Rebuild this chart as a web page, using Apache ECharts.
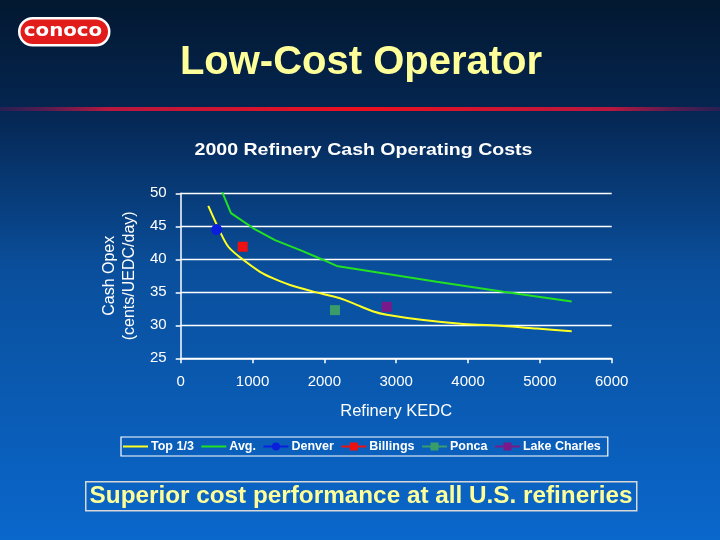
<!DOCTYPE html>
<html><head><meta charset="utf-8">
<script src="https://cdn.jsdelivr.net/npm/echarts@6/dist/echarts.min.js"></script>
<style>html,body{margin:0;padding:0;background:#03244a}#c{width:720px;height:540px}</style>
</head><body><div id="c"></div>
<script>
const top13 = [[384,48.1],[547,44.2],[663,41.9],[826,40.3],[1104,38.1],[1289,37.1],[1522,36.1],[1846,35.1],[2218,34.1],[2450,33.1],[2682,32.1],[2868,31.6],[3378,30.8],[3935,30.2],[4491,29.9],[4956,29.5],[5443,29.1]];
const avg = [[547,51.0],[700,47.0],[1011,44.7],[1313,42.9],[1707,41.2],[1986,39.9],[2171,39.0],[2636,38.2],[3564,36.6],[4491,35.1],[5443,33.6]];
const denver = [[501,44.5]];
const billings = [[863,41.9]];
const ponca = [[2148,32.3]];
const lakeCharles = [[2868,32.8]];
const seriesNames = ['Top 1/3','Avg.','Denver','Billings','Ponca','Lake Charles'];

const chart = echarts.init(document.getElementById('c'));
const FF = '"Liberation Sans", Arial, sans-serif';
const pointSeries = (name, data, color, symbol, size) => ({
  name, type:'line', data, symbol, symbolSize:size, showSymbol:true,
  itemStyle:{color}, lineStyle:{color, width:1.5}, z:5
});
chart.setOption({
  backgroundColor:{type:'linear',x:0,y:0,x2:0,y2:1,colorStops:[
    {offset:0,color:'#021830'},{offset:0.2,color:'#052550'},{offset:0.5,color:'#0a4f9c'},{offset:1,color:'#0a67cb'}]},
  animation:false,
  textStyle:{fontFamily:FF},
  grid:{left:180.7, right:108.3, top:193.3, bottom:181.7},
  xAxis:{type:'value', min:0, max:6000, interval:1000,
    name:'Refinery KEDC', nameLocation:'middle', nameGap:45,
    nameTextStyle:{color:'#ffffff', fontSize:16.5, fontFamily:FF},
    axisLine:{lineStyle:{color:'#ffffff', width:1.5}},
    axisTick:{show:true, length:5, lineStyle:{color:'#ffffff', width:1.5}},
    axisLabel:{color:'#ffffff', fontSize:15, margin:16, fontFamily:FF, formatter:v=>String(v)},
    splitLine:{show:false}},
  yAxis:{type:'value', min:25, max:50, interval:5,
    name:'Cash Opex\n(cents/UEDC/day)', nameLocation:'middle', nameGap:41,
    nameTextStyle:{color:'#ffffff', fontSize:16, lineHeight:20, fontFamily:FF},
    axisLine:{show:true, lineStyle:{color:'#ffffff', width:1.5}},
    axisTick:{show:true, length:5, lineStyle:{color:'#ffffff', width:1.5}},
    axisLabel:{color:'#ffffff', fontSize:15, margin:14, fontFamily:FF, formatter:v=>String(v)},
    splitLine:{show:true, lineStyle:{color:'#ffffff', width:1.3}}},
  legend:{left:121, top:437, width:600, padding:[3,7,3,1], itemGap:6.5,
    borderColor:'#ffffff', borderWidth:1.2, itemWidth:25, itemHeight:10,
    textStyle:{color:'#ffffff', fontSize:12.5, fontWeight:'bold', fontFamily:FF, padding:[0,0,0,-2]},
    data:[
      {name:'Top 1/3', itemStyle:{opacity:0}},
      {name:'Avg.', itemStyle:{opacity:0}},
      'Denver','Billings','Ponca','Lake Charles']},
  series:[
    {name:seriesNames[0], type:'line', data:top13, smooth:0.3, symbol:'none', lineStyle:{color:'#ffff22', width:2}, itemStyle:{color:'#ffff22'}},
    {name:seriesNames[1], type:'line', data:avg, symbol:'none', lineStyle:{color:'#22e022', width:2}, itemStyle:{color:'#22e022'}},
    pointSeries(seriesNames[2], denver, '#0a1fdd', 'circle', 11),
    pointSeries(seriesNames[3], billings, '#ee1111', 'rect', 10),
    pointSeries(seriesNames[4], ponca, '#3a9c6a', 'rect', 10),
    pointSeries(seriesNames[5], lakeCharles, '#7a1a8a', 'rect', 10)
  ],
  graphic:[
    {type:'rect', left:0, top:107, shape:{width:720, height:4},
      style:{fill:{type:'linear',x:0,y:0,x2:1,y2:0,colorStops:[
        {offset:0,color:'rgba(120,20,90,0.3)'},{offset:0.15,color:'#b8183f'},{offset:0.5,color:'#ee1020'},{offset:0.85,color:'#b8183f'},{offset:1,color:'rgba(120,20,90,0.3)'}]}}},
    {type:'rect', left:18, top:17, shape:{width:90, height:27, r:13.5},
      style:{fill:'#e21b1b', stroke:'#ffffff', lineWidth:2.5}},
    {type:'text', x:63, y:31, scaleX:1.1, style:{text:'conoco', fill:'#ffffff', align:'center', verticalAlign:'middle',
      font:'bold 18px "DejaVu Sans", sans-serif'}},
    {type:'text', x:361, y:63, style:{text:'Low-Cost Operator', fill:'#ffff99', align:'center', verticalAlign:'middle',
      font:'bold 40px "Liberation Sans", Arial, sans-serif', textShadowColor:'#000000', textShadowOffsetX:2, textShadowOffsetY:2, textShadowBlur:0}},
    {type:'text', x:363.5, y:150, scaleX:1.15, style:{text:'2000 Refinery Cash Operating Costs', fill:'#ffffff', align:'center', verticalAlign:'middle',
      font:'bold 17px "Liberation Sans", Arial, sans-serif'}},
    {type:'rect', left:85, top:481, shape:{width:551, height:29},
      style:{fill:'rgba(0,0,0,0)', stroke:'#d8d8d8', lineWidth:1.5}},
    {type:'text', x:361, y:496, style:{text:'Superior cost performance at all U.S. refineries', fill:'#ffff99', align:'center', verticalAlign:'middle',
      font:'bold 24.3px "Liberation Sans", Arial, sans-serif', textShadowColor:'#000000', textShadowOffsetX:1.5, textShadowOffsetY:1.5, textShadowBlur:0}}
  ]
});
</script></body></html>
